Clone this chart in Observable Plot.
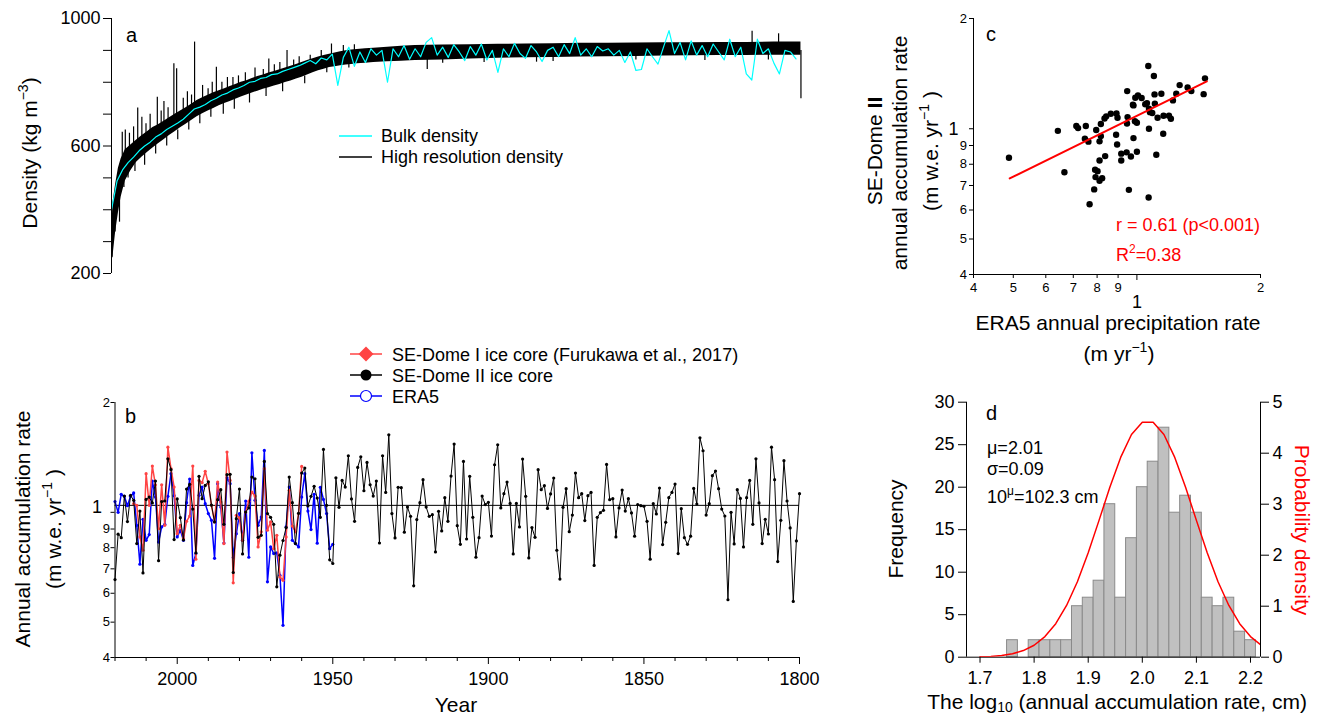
<!DOCTYPE html>
<html><head><meta charset="utf-8">
<script src="https://cdn.jsdelivr.net/npm/d3@7"></script>
<script src="https://cdn.jsdelivr.net/npm/@observablehq/plot@0.6"></script>
<style>
body{margin:0;background:#fff;}
#wrap{position:relative;width:1324px;height:717px;overflow:hidden;background:#fff;}
</style></head><body><div id="wrap"></div>
<script>
// ---------------- Panel a: density profile ----------------
const densityDepth = [0,0.5,1.5,2.5,3.5,5,7,9,11,13,15,17,19,21,23,25,27,29,31,33,35,37,39,41,43,45,47,49,51,53,55,57,59,61,63,65,67,69,71,73,75,77,79,81,83,85,87,89,92,95,100,105,110,120,130,140,150,160,170,180,190,200,210,220,230,240,249.8];
const densityLow = [240,250,330,390,440,490,522,548,565,580,594,607,620,633,645,657,668,680,692,701,710,718,726,733,740,747,754,760,766,772,778,783,788,793,799,804,810,816,823,830,836,841,846,849,852,854,856,858,860,862,864,866,868,870,873,875,877,878,879,880,881,882,883,884,884,885,885];
const densityHigh = [300,420,480,530,560,588,603,618,632,645,658,667,678,689,700,710,720,731,743,751,759,767,773,780,787,793,800,805,812,818,823,829,834,839,845,850,856,862,868,874,879,884,888,892,896,899,901,903,905,907,910,913,915,917,918,919,920,921,922,922,923,924,924,925,925,926,926];
// spikes of the high-resolution record (depth, from, to)
const spikeDepth = [3.9,9.5,16.6,19,22.6,23.6,30.1,38,42,57,63.6,79.7,0.2,1.3,2.9,114.4,154,232.1,241.7,249.8,
  5,6.5,8,11,12.5,14,18,20.5,26,27.5,29,33,35,36.5,40,44,46,48.5,52,55,59,61,66,68,72,76,84,88,
  4.5,6,8.5,12,16,20,24,28,32,36,40.5,44.5,50,56,62,70,78,86,120,135,160,190,215,238];
const spikeFrom  = [560,600,650,660,680,690,720,750,760,800,820,870,300,400,450,880,880,900,900,900,
  560,580,600,620,620,640,660,670,700,710,710,730,740,745,755,770,775,785,795,800,815,820,830,840,850,860,880,885,
  520,540,560,580,610,630,650,680,700,720,740,750,770,790,800,820,850,865,890,890,890,890,890,890];
const spikeTo    = [643,719,753,740,858,842,926,847,815,873,900,920,251,330,361,840,863,960,952,748,
  650,640,660,690,670,700,710,720,750,770,760,790,780,800,800,815,820,830,845,840,855,862,870,880,885,900,915,918,
  470,500,520,540,575,600,620,650,670,690,700,715,735,755,770,795,830,845,860,862,865,870,868,870];
const bulkDepth = d3.range(0, 249, 2);
const bulkDensity = [400,490,525,548,565,585,600,612,628,638,
 652,662,672,684,700,716,722,730,742,750,
 760,766,776,782,790,800,803,812,815,824,
 826,834,840,846,852,860,868,858,876,870,
 888,790,878,910,850,895,862,905,885,900,
 800,905,880,
 915,872,905,880,925,940,885,910,878,918,
 895,868,912,885,920,870,900,831,905,880,
 922,890,875,915,895,865,900,910,880,918,
 890,940,885,905,880,912,898,905,885,900,
 862,895,837,840,905,880,857,910,962,890,
 925,870,930,885,915,880,920,895,870,935,
 880,910,826,807,935,890,905,860,826,900,
 895,873];
const densityTicks = [200,300,400,500,600,700,800,900,1000];
const densityTickLabels = [200,600,1000];

// ---------------- Panel b: annual accumulation ----------------
const dome2Years = d3.range(2020, 1799, -1);
const dome2Acc = [0.654,0.871,0.852,1.108,0.943,1.113,1.079,0.821,1.008,0.682,
1.085,1.101,1.061,1.218,0.737,1.070,1.074,1.402,1.309,0.842,
1.088,0.967,0.840,1.158,1.193,1.021,0.774,1.255,1.090,1.185,
1.213,1.047,0.941,1.083,1.154,0.927,1.268,1.271,0.684,0.961,
1.158,0.769,1.002,1.028,1.249,1.236,0.854,0.865,1.379,0.992,
0.969,0.927,0.625,0.763,0.837,0.908,1.249,1.063,0.821,0.994,
1.281,1.322,1.041,1.106,1.178,1.094,0.969,1.487,1.045,0.741,
0.724,1.244,1.032,1.223,1.173,1.429,1.088,0.945,1.328,1.420,
1.146,1.370,1.190,1.108,1.218,0.824,1.429,1.134,1.631,0.992,
0.851,1.171,1.168,0.882,1.034,0.975,0.629,0.955,1.063,1.229,
1.034,0.975,0.985,0.779,1.006,0.889,1.097,0.945,1.257,1.538,
0.919,0.817,1.379,0.845,1.255,0.969,0.753,0.852,1.108,1.050,
1.065,0.861,1.350,1.532,1.028,1.125,1.210,1.058,0.769,1.058,
0.912,1.399,1.106,0.750,0.908,0.854,1.309,1.154,1.183,1.025,
1.123,1.242,0.787,0.656,1.032,1.161,0.885,0.983,1.281,1.097,
1.125,0.949,1.111,1.134,0.715,0.969,0.998,1.013,1.353,1.083,
1.090,0.856,1.028,1.151,1.008,1.090,0.996,0.860,1.050,1.043,
1.039,0.945,0.744,1.056,0.990,1.166,0.816,0.939,1.097,1.134,
1.195,0.771,1.023,0.852,0.817,0.860,1.163,1.054,1.601,1.475,
0.983,1.056,1.260,1.298,1.161,1.021,0.977,0.576,1.000,0.819,
1.154,1.092,0.804,1.097,1.223,0.927,1.402,1.061,0.821,0.957,
0.872,1.509,1.229,0.733,0.951,1.385,1.074,0.906,0.570,0.835,1.125];
const era5Years = d3.range(2020, 1949, -1);
const era5Acc = [1.070,1.000,1.120,1.106,1.043,1.106,1.130,0.921,0.721,0.957,
0.838,0.869,1.218,1.101,0.829,0.912,0.927,1.106,1.276,1.111,
0.856,0.893,0.838,1.063,1.234,0.715,0.771,1.113,1.173,1.056,
0.992,0.951,0.748,1.198,1.034,0.824,1.244,1.198,0.752,0.874,
0.992,0.838,1.074,0.753,1.456,1.079,0.921,0.971,1.478,0.645,
0.804,0.771,0.774,0.672,0.490,0.912,1.173,0.838,0.821,0.804,
1.101,1.276,1.008,0.897,1.120,0.823,1.171,1.085,0.992,0.795,0.817];
const dome1Years = d3.range(2014, 1959, -1);
const dome1Acc = [1.056,1.045,0.856,0.787,1.276,1.045,1.339,1.190,0.902,1.190,
0.921,1.509,1.317,1.173,0.874,0.921,0.847,0.945,0.977,1.339,
0.744,1.223,1.206,1.295,1.198,1.045,0.941,1.210,1.067,0.821,
1.463,1.223,0.641,0.981,0.965,0.838,1.002,1.072,1.137,1.108,
0.804,0.884,1.317,0.893,0.941,0.795,0.865,0.665,0.651,0.856,
1.149,0.917,0.884,0.992,1.336];
const accMean = 1.045;
const yearMajorTicks = [2000,1950,1900,1850,1800];
const yearMinorTicks = [2020,2010,1990,1980,1970,1960,1940,1930,1920,1910,1890,1880,1870,1860,1840,1830,1820,1810];
const logMinorTicks = [0.4,0.5,0.6,0.7,0.8,0.9,2];

// ---------------- Panel c: scatter ----------------
const era5Precip = [0.488,0.642,0.666,0.712,0.719,0.751,0.747,0.762,0.767,0.787,
0.791,0.796,0.802,0.793,0.811,0.823,0.811,0.811,0.817,0.817,
0.837,0.834,0.842,0.864,0.892,0.897,0.890,0.895,0.916,0.916,
0.944,0.947,0.949,0.946,0.956,0.967,0.978,0.981,0.981,0.989,
0.991,1.000,1.000,1.006,1.027,1.048,1.058,1.066,1.070,1.070,
1.068,1.076,1.090,1.100,1.104,1.106,1.115,1.123,1.147,1.159,
1.161,1.197,1.210,1.224,1.247,1.271,1.329,1.357,1.454,1.465];
const domeAccC = [0.833,0.987,0.761,1.017,1.004,1.017,0.939,0.922,0.622,0.683,
0.773,0.992,0.766,0.738,0.721,0.733,0.819,0.924,0.955,1.030,
0.842,1.067,1.081,1.099,1.101,1.072,0.963,0.906,0.855,0.819,
0.862,1.267,1.076,1.034,0.681,0.840,1.163,1.158,0.943,1.049,
1.215,1.038,0.865,1.233,1.213,1.166,1.175,1.483,1.134,1.000,
0.649,1.110,1.104,1.393,1.241,1.170,0.849,1.072,1.246,0.969,
1.085,1.085,1.065,1.195,1.246,1.316,1.297,1.267,1.243,1.373];
const fitX = [0.49, 1.48];
const fitY = [0.732, 1.347];

// ---------------- Panel d: histogram ----------------
const histBinStart = [1.75,1.77,1.79,1.81,1.83,1.85,1.87,1.89,1.91,1.93,1.95,1.97,1.99,2.01,2.03,2.05,2.07,2.09,2.11,2.13,2.15,2.17,2.19];
const histCount    = [2,0,2,2,2,2,6,7,9,18,7,14,20,23,27,17,19,17,7,6,7,3,2];
const binWidth = 0.02;
const pdfX = [1.70,1.72,1.74,1.76,1.78,1.80,1.82,1.84,1.86,1.88,1.90,1.92,1.94,1.96,1.98,2.00,2.02,2.04,2.06,2.08,2.10,2.12,2.14,2.16,2.18,2.20,2.22];
const pdfY = [0.007,0.016,0.034,0.068,0.130,0.235,0.404,0.657,1.014,1.480,2.047,2.683,3.331,3.918,4.366,4.608,4.608,4.366,3.918,3.331,2.683,2.047,1.480,1.014,0.657,0.404,0.235];
const freqTicks = [0,5,10,15,20,25,30];
const pdfTicks = [0,1,2,3,4,5];
const logTicksX = [1.7,1.8,1.9,2.0,2.1,2.2];

// ---------------- layout helpers ----------------
const FONT = '"Liberation Sans", Arial, Helvetica, sans-serif';
const wrap = document.getElementById("wrap");
const baseStyle = {background:"transparent", fontFamily: FONT, fontSize:"18px", overflow:"visible", color:"black"};
function place(svg, left, top){
  svg.style.position = "absolute"; svg.style.left = left + "px"; svg.style.top = top + "px";
  svg.style.maxWidth = "none"; wrap.appendChild(svg);
}
const logFmt = d => d < 1 ? String(Math.round(d*10)) : String(d);

// Panel a
const bandData = densityDepth.map((d,i) => ({d, lo: densityLow[i], hi: densityHigh[i]}));
place(Plot.plot({
  width:810, height:290, marginLeft:111, marginRight:9, marginTop:18, marginBottom:17,
  style: baseStyle,
  x:{domain:[0,250], axis:null},
  y:{domain:[200,1000], axis:null},
  marks:[
    Plot.areaY(bandData, {x:"d", y1:"lo", y2:"hi", fill:"black"}),
    Plot.ruleX(spikeDepth, {x: spikeDepth, y1: spikeFrom, y2: spikeTo, stroke:"black", strokeWidth:1.2}),
    Plot.line(bulkDensity, {x: bulkDepth, y: bulkDensity, stroke:"#00ffff", strokeWidth:1.2}),
    Plot.ruleX([0], {stroke:"black"}),
    Plot.axisY({ticks: densityTicks, tickFormat: d => densityTickLabels.includes(d) ? String(d) : "", tickSize:8, tickPadding:3, fontSize:18})
  ]
}), 0, 0);

// Panel b
place(Plot.plot({
  width:810, height:387, marginLeft:114.5, marginRight:11, marginTop:72, marginBottom:60,
  style: baseStyle,
  x:{domain:[2020,1800], axis:null},
  y:{type:"log", domain:[0.4,2], axis:null},
  marks:[
    Plot.ruleY([accMean], {stroke:"black", strokeWidth:1}),
    Plot.line(era5Acc, {x: era5Years, y: era5Acc, stroke:"#0000ff", strokeWidth:1.5}),
    Plot.dot(era5Acc, {x: era5Years, y: era5Acc, fill:"#0000ff", r:1.6}),
    Plot.line(dome1Acc, {x: dome1Years, y: dome1Acc, stroke:"#ff4444", strokeWidth:1.5}),
    Plot.dot(dome1Acc, {x: dome1Years, y: dome1Acc, fill:"#ff4444", r:1.6}),
    Plot.line(dome2Acc, {x: dome2Years, y: dome2Acc, stroke:"black", strokeWidth:1}),
    Plot.dot(dome2Acc, {x: dome2Years, y: dome2Acc, fill:"black", r:1.6}),
    Plot.ruleX([2020], {stroke:"black"}),
    Plot.ruleY([0.4], {stroke:"black"}),
    Plot.axisY({ticks: logMinorTicks, tickFormat: logFmt, tickSize:4, tickPadding:1, fontSize:13}),
    Plot.axisY({ticks:[1], tickFormat: () => "", tickSize:4}),
    Plot.text(["1"], {x: 2020, y: 1, dx: -13, dy: -5, textAnchor:"end", fontSize:18}),
    Plot.axisX({ticks: yearMajorTicks, tickFormat: d => String(d), tickSize:7, tickPadding:8, fontSize:18}),
    Plot.axisX({ticks: yearMinorTicks, tickFormat: () => "", tickSize:4})
  ]
}), 0, 330);

// Panel c
place(Plot.plot({
  width:484, height:370, marginLeft:133, marginRight:64, marginTop:18, marginBottom:96,
  style: baseStyle,
  x:{type:"log", domain:[0.4,2], axis:null},
  y:{type:"log", domain:[0.4,2], axis:null},
  marks:[
    Plot.ruleX([0.4], {stroke:"black"}),
    Plot.ruleY([0.4], {stroke:"black"}),
    Plot.axisY({ticks: logMinorTicks, tickFormat: logFmt, tickSize:4, tickPadding:2.5, fontSize:13}),
    Plot.axisY({ticks:[1], tickFormat: () => "1", tickSize:4, tickPadding:11, fontSize:18}),
    Plot.axisX({ticks: logMinorTicks, tickFormat: logFmt, tickSize:4, tickPadding:4.5, fontSize:13}),
    Plot.axisX({ticks:[1], tickFormat: () => "1", tickSize:6, tickPadding:15, fontSize:18}),
    Plot.dot(domeAccC, {x: era5Precip, y: domeAccC, fill:"black", r:3.2}),
    Plot.line(fitY, {x: fitX, y: fitY, stroke:"#ff0000", strokeWidth:2})
  ]
}), 840, 0);

// Panel d (histogram, left axis)
const dDomain = [1.675, 2.2185];
place(Plot.plot({
  width:484, height:347, marginLeft:126, marginRight:64, marginTop:31.7, marginBottom:60.3,
  style: baseStyle,
  x:{domain: dDomain, axis:null},
  y:{domain:[0,30], axis:null},
  marks:[
    Plot.rectY(histCount, {x1: histBinStart, x2: histBinStart.map(b => b + binWidth), y: histCount, fill:"#c0c0c0", stroke:"#8a8a8a", strokeWidth:1, inset:0}),
    Plot.ruleX([dDomain[0]], {stroke:"black"}),
    Plot.ruleY([0], {stroke:"black"}),
    Plot.axisY({ticks: freqTicks, tickFormat: d => String(d), tickSize:8, tickPadding:4, fontSize:18}),
    Plot.axisX({ticks: logTicksX, tickFormat: d => d.toFixed(1), tickSize:6, tickPadding:8, fontSize:18})
  ]
}), 840, 370);
// Panel d (probability density, right axis)
place(Plot.plot({
  width:484, height:347, marginLeft:126, marginRight:64, marginTop:31.7, marginBottom:60.3,
  style: baseStyle,
  x:{domain: dDomain, axis:null},
  y:{domain:[0,5], axis:null},
  marks:[
    Plot.line(pdfY, {x: pdfX, y: pdfY, stroke:"#ff0000", strokeWidth:1.5, clip:true}),
    Plot.ruleX([dDomain[1]], {stroke:"black"}),
    Plot.axisY({anchor:"right", ticks: pdfTicks, tickFormat: d => String(d), tickSize:8, tickPadding:4, fontSize:18})
  ]
}), 840, 370);

// ---------------- text overlay (titles, labels, legends) ----------------
const ov = d3.select(wrap).append("svg")
  .attr("width",1324).attr("height",717)
  .style("position","absolute").style("left","0px").style("top","0px")
  .style("font-family", FONT).style("overflow","visible");

function rich(x, y, parts, {size=18, anchor="start", rotate=0, fill="black", subShift=0.3} = {}) {
  const g = ov.append("g").attr("transform", `translate(${x},${y}) rotate(${rotate})`);
  const t = g.append("text").attr("text-anchor", anchor).attr("font-size", size).attr("fill", fill);
  let shift = 0;
  for (const p of parts) {
    const [s, o] = Array.isArray(p) ? p : [p, {}];
    let target = 0;
    if (o.sup) target = -Math.round(size*0.42);
    if (o.sub) target = Math.round(size*subShift);
    const sp = t.append("tspan").text(s).attr("dy", target - shift);
    if (o.sup || o.sub) sp.attr("font-size", Math.round(size*0.68));
    if (o.bold) sp.attr("font-weight", "bold");
    shift = target;
  }
  return t;
}

// Panel a
rich(126, 42, ["a"], {size:20});
rich(37, 153, ["Density (kg m", ["−3", {sup:true}], ")"], {size:21, anchor:"middle", rotate:-90});
ov.append("line").attr("x1",339).attr("x2",372).attr("y1",136).attr("y2",136).attr("stroke","#00ffff").attr("stroke-width",1.5);
ov.append("line").attr("x1",339).attr("x2",372).attr("y1",157).attr("y2",157).attr("stroke","black").attr("stroke-width",1.5);
rich(381, 142, ["Bulk density"], {size:18});
rich(381, 163, ["High resolution density"], {size:18});

// Panel b
rich(125, 423, ["b"], {size:20});
const legB = [
  {y:354, color:"#ff4444", label:"SE-Dome I ice core (Furukawa et al., 2017)", marker:"diamond"},
  {y:375, color:"black", label:"SE-Dome II ice core", marker:"dot"},
  {y:396, color:"#0000ff", label:"ERA5", marker:"circle"}
];
for (const l of legB) {
  ov.append("line").attr("x1",350).attr("x2",382).attr("y1",l.y).attr("y2",l.y).attr("stroke",l.color).attr("stroke-width",1.5);
  if (l.marker === "diamond") ov.append("path").attr("d", `M366,${l.y-7.5}L373.5,${l.y}L366,${l.y+7.5}L358.5,${l.y}Z`).attr("fill", l.color);
  if (l.marker === "dot") ov.append("circle").attr("cx",366).attr("cy",l.y).attr("r",5.5).attr("fill",l.color);
  if (l.marker === "circle") ov.append("circle").attr("cx",366).attr("cy",l.y).attr("r",5.5).attr("fill","white").attr("stroke",l.color).attr("stroke-width",1.2);
  rich(392, l.y + 7, [l.label], {size:18});
}
rich(30, 529, ["Annual accumulation rate"], {size:21, anchor:"middle", rotate:-90});
rich(61, 529, ["(m w.e. yr", ["−1", {sup:true}], " )"], {size:21, anchor:"middle", rotate:-90});
rich(456, 712, ["Year"], {size:21, anchor:"middle"});

// Panel c
rich(986, 41, ["c"], {size:20});
rich(882, 151, ["SE-Dome ", ["II", {bold:true}]], {size:21, anchor:"middle", rotate:-90});
rich(907, 153, ["annual accumulation rate"], {size:21, anchor:"middle", rotate:-90});
rich(938, 151, ["(m w.e. yr", ["−1", {sup:true}], " )"], {size:21, anchor:"middle", rotate:-90});
rich(1118, 330, ["ERA5 annual precipitation rate"], {size:21, anchor:"middle"});
rich(1119, 361, ["(m yr", ["−1", {sup:true}], ")"], {size:21, anchor:"middle"});
rich(1116, 231, ["r = 0.61 (p<0.001)"], {size:18, fill:"#ff0000"});
rich(1116, 261, ["R", ["2", {sup:true}], "=0.38"], {size:18, fill:"#ff0000"});

// Panel d
rich(986, 420, ["d"], {size:20});
rich(987, 454, ["μ=2.01"], {size:18});
rich(987, 475, ["σ=0.09"], {size:18});
rich(987, 503, ["10", ["μ", {sup:true}], "=102.3 cm"], {size:18});
rich(903, 529, ["Frequency"], {size:21, anchor:"middle", rotate:-90});
rich(1295, 530, ["Probability density"], {size:21, anchor:"middle", rotate:90, fill:"#ff0000"});
rich(1117, 709, ["The log", ["10", {sub:true}], " (annual accumulation rate, cm)"], {size:21, anchor:"middle", subShift:0.15});
</script></body></html>
